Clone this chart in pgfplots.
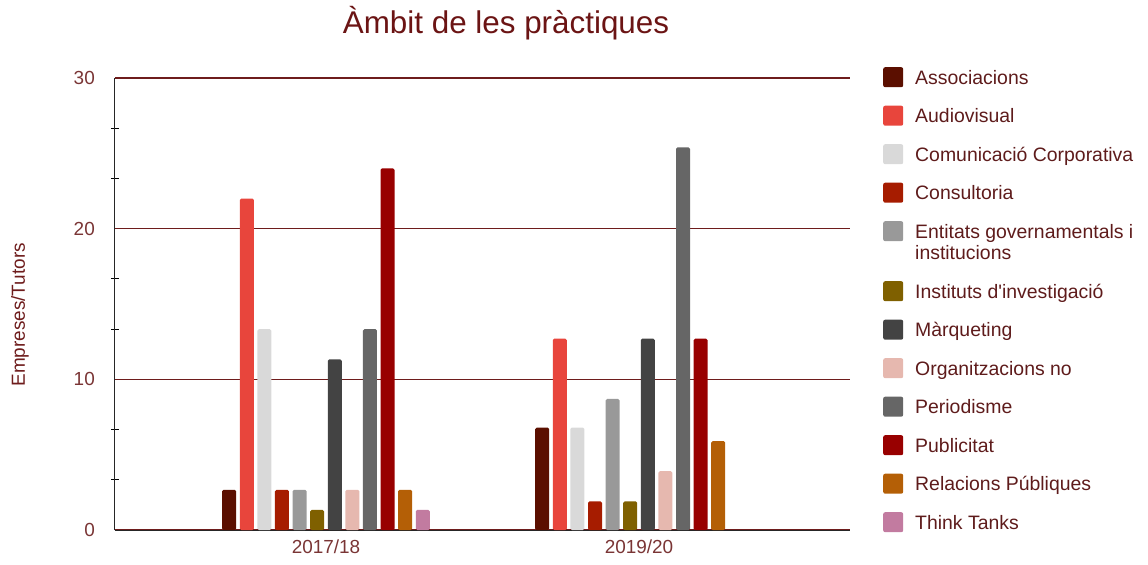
\documentclass[border=0pt]{standalone}
\usepackage{fontspec}
\setmainfont{Liberation Sans}
\usepackage{pgfplots}
\pgfplotsset{compat=1.18}
\definecolor{cA}{HTML}{5B0F00}
\definecolor{cB}{HTML}{E8453C}
\definecolor{cC}{HTML}{D9D9D9}
\definecolor{cD}{HTML}{A61C00}
\definecolor{cE}{HTML}{999999}
\definecolor{cF}{HTML}{7F6000}
\definecolor{cG}{HTML}{434343}
\definecolor{cH}{HTML}{E6B8AF}
\definecolor{cI}{HTML}{666666}
\definecolor{cJ}{HTML}{980000}
\definecolor{cK}{HTML}{B45F06}
\definecolor{cL}{HTML}{C27BA0}
\definecolor{gridred}{HTML}{6E1C1C}
\definecolor{tickc}{HTML}{7A3535}
\definecolor{legc}{HTML}{5E1B1B}
\definecolor{titlec}{HTML}{6B1414}
\pgfplotsset{
  normalimage/.style={legend image code/.code={\path[draw=none,fill=none] (0,-5bp) -- (0,17bp); \path[##1, rounded corners=2bp] (0,-3bp) rectangle (20bp,17bp);}},
  tallimage/.style={legend image code/.code={\path[draw=none,fill=none] (0,-26.5bp) -- (0,17bp); \path[##1, rounded corners=2bp] (0,-3bp) rectangle (20bp,17bp);}},
}
\begin{document}
\begin{tikzpicture}
\useasboundingbox (-115bp,-35bp) rectangle (1033bp,530bp);
\begin{axis}[
  at={(0,0)}, anchor=south west,
  scale only axis, width=735bp, height=452bp,
  xmin=-0.674, xmax=1.674, ymin=0, ymax=30,
  axis lines*=left,
  axis line style={draw=black!85, line width=1bp},
  ybar=3.6bp, bar width=14bp,
  xtick={0,1}, xticklabels={2017/18,2019/20},
  ytick={0,10,20,30},
  minor ytick={3.333,6.667,13.333,16.667,23.333,26.667},
  ymajorgrids, major grid style={draw=gridred, line width=1.3bp},
  major tick length=0pt, minor tick length=8bp, tick align=center,
  minor tick style={black, line width=1bp},
  tick label style={font=\fontsize{19}{22}\selectfont, text=tickc},
  /pgf/number format/assume math mode=true,
  yticklabel style={anchor=east, inner sep=0pt, xshift=-20bp},
  xticklabel style={anchor=north, inner sep=0pt, yshift=-10bp},
  every axis y label/.style={at={(axis description cs:0,0.476)}, rotate=90, anchor=center, yshift=95bp, font=\fontsize{19}{22}\selectfont, text=gridred},
  ylabel={Empreses/Tutors},
  title={Àmbit de les pràctiques},
  title style={at={(axis description cs:0.532,1)}, anchor=base, inner sep=0pt, yshift=39bp, font=\fontsize{31.5}{36}\selectfont, text=titlec},
  legend style={at={(axis description cs:1,1)}, anchor=north west, xshift=33bp, yshift=11bp, draw=none, fill=none, inner sep=0pt, row sep=16.5bp, column sep=12bp, font=\fontsize{19.5}{21}\selectfont, text=legc, nodes={inner sep=0pt}, cells={anchor=base west}},
  normalimage,
  every axis plot/.append style={draw=none, rounded corners=1.5bp},
]
\addplot[fill=cA] coordinates {(0,2.67) (1,6.8)};
\addplot[fill=cB] coordinates {(0,22) (1,12.7)};
\addplot[fill=cC] coordinates {(0,13.33) (1,6.8)};
\addplot[fill=cD] coordinates {(0,2.67) (1,1.9)};
\addplot[fill=cE, tallimage] coordinates {(0,2.67) (1,8.7)};
\addplot[fill=cF] coordinates {(0,1.33) (1,1.9)};
\addplot[fill=cG] coordinates {(0,11.33) (1,12.7)};
\addplot[fill=cH] coordinates {(0,2.67) (1,3.9)};
\addplot[fill=cI] coordinates {(0,13.33) (1,25.4)};
\addplot[fill=cJ] coordinates {(0,24) (1,12.7)};
\addplot[fill=cK] coordinates {(0,2.67) (1,5.9)};
\addplot[fill=cL] coordinates {(0,1.33)};
\legend{Associacions, Audiovisual, Comunicació Corporativa, Consultoria, {\vtop{\baselineskip=21bp\hbox{Entitats governamentals i}\hbox{institucions}}}, Instituts d\textquotesingle investigació, Màrqueting, Organitzacions no, Periodisme, Publicitat, Relacions Públiques, Think Tanks}
\end{axis}
\end{tikzpicture}
\end{document}
